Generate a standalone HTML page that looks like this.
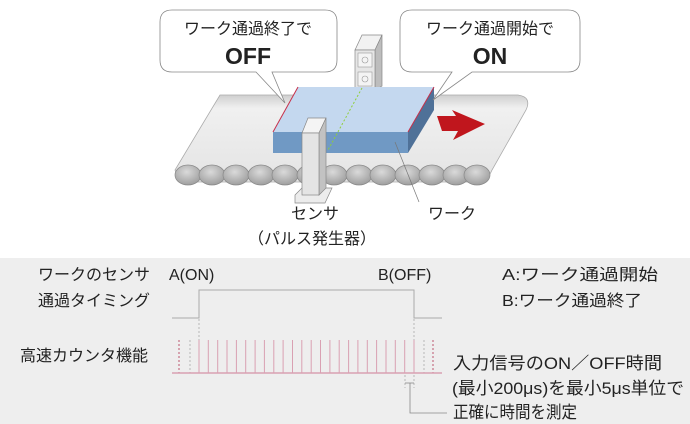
<!DOCTYPE html>
<html><head><meta charset="utf-8"><style>
html,body{margin:0;padding:0;background:#fff;}
svg{display:block;}
text{font-family:"Liberation Sans","Noto Sans CJK JP",sans-serif;fill:#222;}
</style></head><body>
<svg width="690" height="424" viewBox="0 0 690 424" xmlns="http://www.w3.org/2000/svg">
<defs>
<linearGradient id="belt" x1="0" y1="0" x2="0" y2="1">
<stop offset="0" stop-color="#cfcfcf"/><stop offset="0.15" stop-color="#f0f0f0"/><stop offset="1" stop-color="#e4e4e4"/>
</linearGradient>
<radialGradient id="roll" cx="0.45" cy="0.35" r="0.7">
<stop offset="0" stop-color="#dadada"/><stop offset="1" stop-color="#9a9a9a"/>
</radialGradient>
</defs>
<rect x="0" y="258" width="690" height="166" fill="#eeeeee"/>
<path d="M220,95 L518,95 Q532,97 526,110 L492,170 Q488,180 478,182 L180,182 L175,170 Z" fill="url(#belt)" stroke="#aaa" stroke-width="0.8"/>
<g stroke="#888" stroke-width="0.7" fill="url(#roll)">
<ellipse cx="188" cy="175" rx="13" ry="10"/><ellipse cx="212" cy="175" rx="13" ry="10"/><ellipse cx="236" cy="175" rx="13" ry="10"/><ellipse cx="261" cy="175" rx="13" ry="10"/><ellipse cx="285" cy="175" rx="13" ry="10"/><ellipse cx="310" cy="175" rx="13" ry="10"/><ellipse cx="334" cy="175" rx="13" ry="10"/><ellipse cx="359" cy="175" rx="13" ry="10"/><ellipse cx="383" cy="175" rx="13" ry="10"/><ellipse cx="408" cy="175" rx="13" ry="10"/><ellipse cx="432" cy="175" rx="13" ry="10"/><ellipse cx="456" cy="175" rx="13" ry="10"/><ellipse cx="477" cy="175" rx="13" ry="10"/>
</g>
<polygon points="355,50 362,35 382,35 375,50" fill="#f2f2f2" stroke="#888" stroke-width="0.7"/>
<polygon points="375,50 382,35 382,86 375,90" fill="#bdbdbd" stroke="#888" stroke-width="0.7"/>
<rect x="355" y="50" width="20" height="40" fill="#e6e6e6" stroke="#888" stroke-width="0.7"/>
<rect x="358" y="53" width="14" height="14" fill="#f4f4f4" stroke="#999" stroke-width="0.6"/>
<circle cx="365" cy="60" r="3" fill="none" stroke="#999" stroke-width="0.6"/>
<rect x="358" y="72" width="14" height="14" fill="#f4f4f4" stroke="#999" stroke-width="0.6"/>
<circle cx="365" cy="79" r="3" fill="none" stroke="#999" stroke-width="0.6"/>
<polygon points="273,132 298,87 434,87 408,132" fill="#c4d8ef"/>
<polygon points="273,132 408,132 408,153 273,153" fill="#7099c4"/>
<polygon points="408,132 434,87 434,110 408,153" fill="#4f7198"/>
<line x1="273" y1="132" x2="298" y2="87" stroke="#c8304a" stroke-width="1"/>
<line x1="408" y1="132" x2="434" y2="87" stroke="#c8304a" stroke-width="1"/>
<line x1="362" y1="88" x2="328" y2="150" stroke="#8fcf3a" stroke-width="1" stroke-dasharray="2,2"/>
<polygon points="295,195 302,188 332,188 325,203 295,203" fill="#ececec" stroke="#888" stroke-width="0.7"/>
<polygon points="302,133 308,118 326,118 319,133" fill="#f4f4f4" stroke="#888" stroke-width="0.7"/>
<polygon points="319,133 326,118 326,188 319,195" fill="#c2c2c2" stroke="#888" stroke-width="0.7"/>
<rect x="302" y="133" width="17" height="62" fill="#e4e4e4" stroke="#888" stroke-width="0.7"/>
<polygon points="437,116 456,116 452,110 485,124 453,140 458,131 442,131" fill="#c0161d"/>
<line x1="395" y1="142" x2="419" y2="202" stroke="#777" stroke-width="0.7"/>
<text x="428" y="219" font-size="16">ワーク</text>
<text x="315" y="219" font-size="16" text-anchor="middle">センサ</text>
<text x="312" y="244" font-size="16" text-anchor="middle">（パルス発生器）</text>
<path d="M172,10 H325 Q337,10 337,22 V60 Q337,72 325,72 H272 L285,103 L256,72 H172 Q160,72 160,60 V22 Q160,10 172,10 Z" fill="#fff" stroke="#888" stroke-width="0.8"/>
<text x="248" y="34" font-size="16" text-anchor="middle">ワーク通過終了で</text>
<text x="248" y="64" font-size="23" font-weight="bold" text-anchor="middle">OFF</text>
<path d="M412,10 H568 Q580,10 580,22 V60 Q580,72 568,72 H472 L433,100 L452,72 H412 Q400,72 400,60 V22 Q400,10 412,10 Z" fill="#fff" stroke="#888" stroke-width="0.8"/>
<text x="490" y="34" font-size="16" text-anchor="middle">ワーク通過開始で</text>
<text x="490" y="64" font-size="23" font-weight="bold" text-anchor="middle">ON</text>
<text x="150" y="280" font-size="16" text-anchor="end">ワークのセンサ</text>
<text x="150" y="306" font-size="16" text-anchor="end">通過タイミング</text>
<text x="148" y="361" font-size="16" text-anchor="end">高速カウンタ機能</text>
<text x="169" y="280" font-size="16">A(ON)</text>
<text x="378" y="280" font-size="16">B(OFF)</text>
<text x="502" y="280" font-size="16" textLength="156" lengthAdjust="spacingAndGlyphs">A:ワーク通過開始</text>
<text x="502" y="306" font-size="16" textLength="140" lengthAdjust="spacingAndGlyphs">B:ワーク通過終了</text>
<text x="453" y="369" font-size="17" textLength="209" lengthAdjust="spacingAndGlyphs">入力信号のON／OFF時間</text>
<text x="452" y="394" font-size="17" textLength="232" lengthAdjust="spacingAndGlyphs">(最小200μs)を最小5μs単位で</text>
<text x="453" y="418" font-size="17" textLength="124" lengthAdjust="spacingAndGlyphs">正確に時間を測定</text>
<polyline points="172,318 199,318 199,290 414,290 414,318 442,318" fill="none" stroke="#aaa" stroke-width="1"/>
<g stroke="#aaa" stroke-width="0.8" stroke-dasharray="2,2">
<line x1="199" y1="319" x2="199" y2="340"/><line x1="414" y1="319" x2="414" y2="340"/>
<line x1="190" y1="340" x2="190" y2="373"/><line x1="424" y1="340" x2="424" y2="373"/>
<line x1="405" y1="375" x2="405" y2="388"/><line x1="414" y1="375" x2="414" y2="388"/>
</g>
<g stroke="#b03050" stroke-width="0.8" stroke-dasharray="2,2">
<line x1="179" y1="340" x2="179" y2="373"/><line x1="433" y1="340" x2="433" y2="373"/>
</g>
<g stroke="#d9a0b2" stroke-width="1">
<line x1="199" y1="340" x2="199" y2="373"/><line x1="208.3" y1="340" x2="208.3" y2="373"/><line x1="217.7" y1="340" x2="217.7" y2="373"/><line x1="227" y1="340" x2="227" y2="373"/><line x1="236.4" y1="340" x2="236.4" y2="373"/><line x1="245.7" y1="340" x2="245.7" y2="373"/><line x1="255.1" y1="340" x2="255.1" y2="373"/><line x1="264.4" y1="340" x2="264.4" y2="373"/><line x1="273.8" y1="340" x2="273.8" y2="373"/><line x1="283.1" y1="340" x2="283.1" y2="373"/><line x1="292.5" y1="340" x2="292.5" y2="373"/><line x1="301.8" y1="340" x2="301.8" y2="373"/><line x1="311.2" y1="340" x2="311.2" y2="373"/><line x1="320.5" y1="340" x2="320.5" y2="373"/><line x1="329.9" y1="340" x2="329.9" y2="373"/><line x1="339.2" y1="340" x2="339.2" y2="373"/><line x1="348.6" y1="340" x2="348.6" y2="373"/><line x1="357.9" y1="340" x2="357.9" y2="373"/><line x1="367.3" y1="340" x2="367.3" y2="373"/><line x1="376.6" y1="340" x2="376.6" y2="373"/><line x1="386" y1="340" x2="386" y2="373"/><line x1="395.3" y1="340" x2="395.3" y2="373"/><line x1="404.7" y1="340" x2="404.7" y2="373"/><line x1="414" y1="340" x2="414" y2="373"/>
</g>
<line x1="172" y1="373" x2="442" y2="373" stroke="#d9a0b2" stroke-width="1.5"/>
<g stroke="#888" stroke-width="0.8" fill="none">
<line x1="405" y1="383" x2="414" y2="383"/>
<polyline points="410,383 410,413 447,413"/>
</g>
</svg>
</body></html>
